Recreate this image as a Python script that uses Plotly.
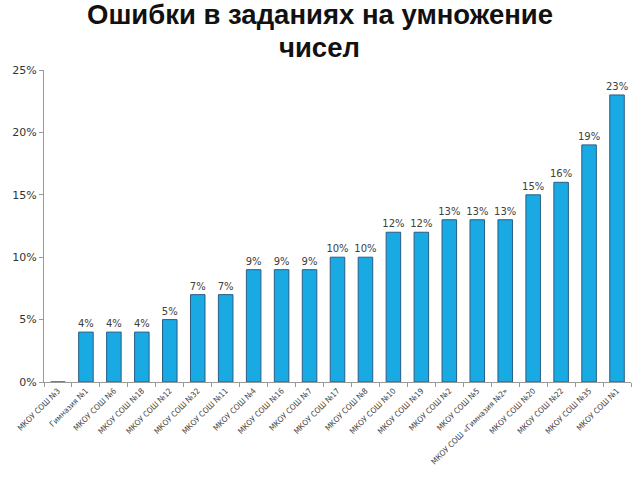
import plotly.graph_objects as go

schools = ["МКОУ СОШ №3", "Гимназия №1", "МКОУ СОШ №6", "МКОУ СОШ №18", "МКОУ СОШ №12",
           "МКОУ СОШ №32", "МКОУ СОШ №11", "МКОУ СОШ №4", "МКОУ СОШ №16", "МКОУ СОШ №7",
           "МКОУ СОШ №17", "МКОУ СОШ №8", "МКОУ СОШ №10", "МКОУ СОШ №19", "МКОУ СОШ №2",
           "МКОУ СОШ №5", "МКОУ СОШ «Гимназия №2»", "МКОУ СОШ №20", "МКОУ СОШ №22",
           "МКОУ СОШ №35", "МКОУ СОШ №1"]
errors = [0, 4, 4, 4, 5, 7, 7, 9, 9, 9, 10, 10, 12, 12, 13, 13, 13, 15, 16, 19, 23]
y_ticks = [0, 5, 10, 15, 20, 25]
y_tick_labels = ["0%", "5%", "10%", "15%", "20%", "25%"]
title_lines = ["Ошибки в заданиях на умножение", "чисел"]

fig = go.Figure(go.Bar(
    x=schools, y=errors,
    marker=dict(color="#19aae3", line=dict(color="#2b5d84", width=1)),
    width=0.52,
    text=[f"{v}%" if v > 0 else "" for v in errors],
    textposition="outside",
    constraintext="none",
    textfont=dict(family="DejaVu Sans", size=10, color="#404040"),
    cliponaxis=False,
))

fig.update_layout(
    width=640, height=480,
    margin=dict(l=44, r=9, t=70, b=98),
    paper_bgcolor="white", plot_bgcolor="white",
    showlegend=False,
    annotations=[
        dict(text=f"<b>{title_lines[0]}</b>", x=0.47, xref="paper", y=1.177, yref="paper",
             xanchor="center", yanchor="middle", showarrow=False,
             font=dict(family="Liberation Sans, Arial", size=27.5, color="#111111")),
        dict(text=f"<b>{title_lines[1]}</b>", x=0.47, xref="paper", y=1.071, yref="paper",
             xanchor="center", yanchor="middle", showarrow=False,
             font=dict(family="Liberation Sans, Arial", size=27.5, color="#111111")),
    ],
)
fig.update_xaxes(
    type="category", tickangle=-45, tickson="boundaries",
    ticks="outside", ticklen=4, tickcolor="#999999",
    showline=True, linecolor="#999999", linewidth=1,
    tickfont=dict(family="DejaVu Sans Condensed, DejaVu Sans", size=8, color="#444444"),
    showgrid=False,
)
fig.update_yaxes(
    range=[0, 25], tickvals=y_ticks, ticktext=y_tick_labels,
    ticks="outside", ticklen=4, tickcolor="#999999",
    showline=True, linecolor="#999999", linewidth=1,
    showgrid=False, zeroline=False,
    tickfont=dict(family="DejaVu Sans", size=11, color="#333333"),
)

fig.write_html("out.html")
